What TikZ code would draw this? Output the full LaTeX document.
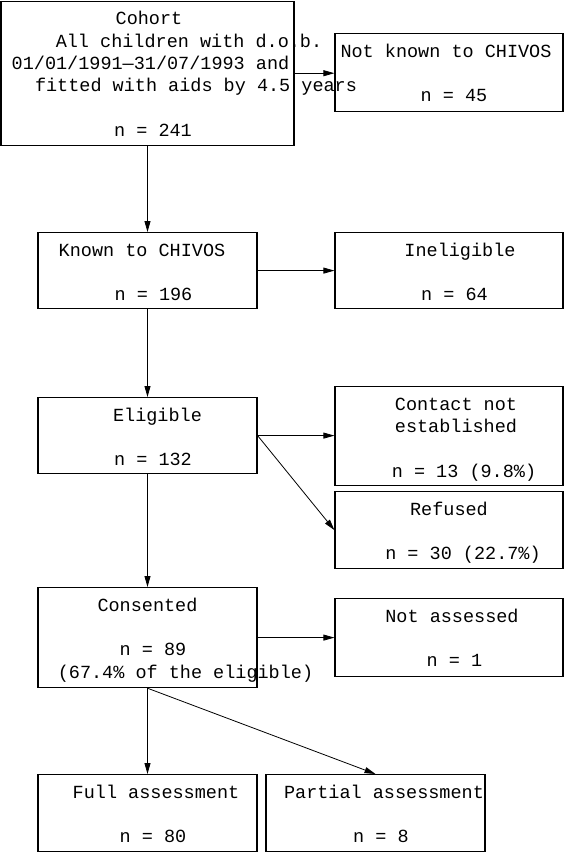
\documentclass[tikz,border=0pt]{standalone}
\usepackage{fontspec}
\newfontfamily\boxfont{Liberation Mono}
\usetikzlibrary{arrows.meta}

% one line of a box, its centre moved right by #1 (pt)
\newcommand\offtext[2]{\hspace*{#1pt}\hspace*{#1pt}\makebox[0pt]{#2}}

\begin{document}
\begin{tikzpicture}[x=1pt, y=-1pt,
    stagebox/.style={draw, line width=1.2pt, anchor=north, inner sep=0pt,
        align=center, font=\boxfont\fontsize{18.5pt}{22.4pt}\selectfont,
        minimum width=219pt, text height=68.3pt, text depth=8.7pt},
    wide/.style={minimum width=228pt},
    flow/.style={-{Triangle[length=11pt,width=6pt]}, line width=0.8pt}]

\useasboundingbox (0,0) rectangle (564,852);

% left column
\node[stagebox, minimum width=293pt, text height=135.5pt, text depth=8.5pt] (cohort) at (147.5,0.6)
    {\offtext{1.5}{Cohort}\\ \offtext{41.5}{All children with d.o.b.}\\
     \offtext{3}{01/01/1991—31/07/1993 and}\\ \offtext{48.5}{fitted with aids by 4.5 years}\\
     \\ \offtext{5.5}{n = 241}};
\node[stagebox, text depth=7.7pt] (known) at (147.5,232)
    {\offtext{-5.5}{Known to CHIVOS}\\ \\ \offtext{6}{n = 196}};
\node[stagebox, text depth=7.7pt] (elig) at (147.5,397)
    {\offtext{10}{Eligible}\\ \\ \offtext{5.5}{n = 132}};
\node[stagebox, text height=90.7pt, text depth=9.3pt] (consented) at (147.5,587)
    {\offtext{0}{Consented}\\ \\ \offtext{5.5}{n = 89}\\ \offtext{38}{(67.4\% of the eligible)}};
\node[stagebox] (full) at (147.5,774)
    {\offtext{8.5}{Full assessment}\\ \\ \offtext{5.5}{n = 80}};
\node[stagebox] (partial) at (375.5,774)
    {\offtext{8.5}{Partial assessment}\\ \\ \offtext{5.5}{n = 8}};

% right column
\node[stagebox, wide, text depth=9.7pt] (notknown) at (449,33)
    {\offtext{-3}{Not known to CHIVOS}\\ \\ \offtext{5}{n = 45}};
\node[stagebox, wide, text depth=7.7pt] (inelig) at (449,232)
    {\offtext{11}{Ineligible}\\ \\ \offtext{5.5}{n = 64}};
\node[stagebox, wide, text height=90.7pt, text depth=8.3pt] (contact) at (449,386)
    {\offtext{7}{Contact not}\\ \offtext{7}{established}\\ \\ \offtext{15}{n = 13 (9.8\%)}};
\node[stagebox, wide] (refused) at (449,491)
    {\offtext{0}{Refused}\\ \\ \offtext{14}{n = 30 (22.7\%)}};
\node[stagebox, wide, text depth=9.7pt] (notass) at (449,598)
    {\offtext{3}{Not assessed}\\ \\ \offtext{5.5}{n = 1}};

\foreach \from/\to in {cohort/known, known/elig, elig/consented, consented/full}
    \draw[flow] (\from.south) -- (\to.north);
\foreach \from/\to in {cohort/notknown, known/inelig, elig/contact, consented/notass}
    \draw[flow] (\from.east) -- (\from.east -| \to.west);
\draw[flow] (elig.east) -- (refused.west);
\draw[flow] (consented.south) -- (partial.north);

\end{tikzpicture}
\end{document}
